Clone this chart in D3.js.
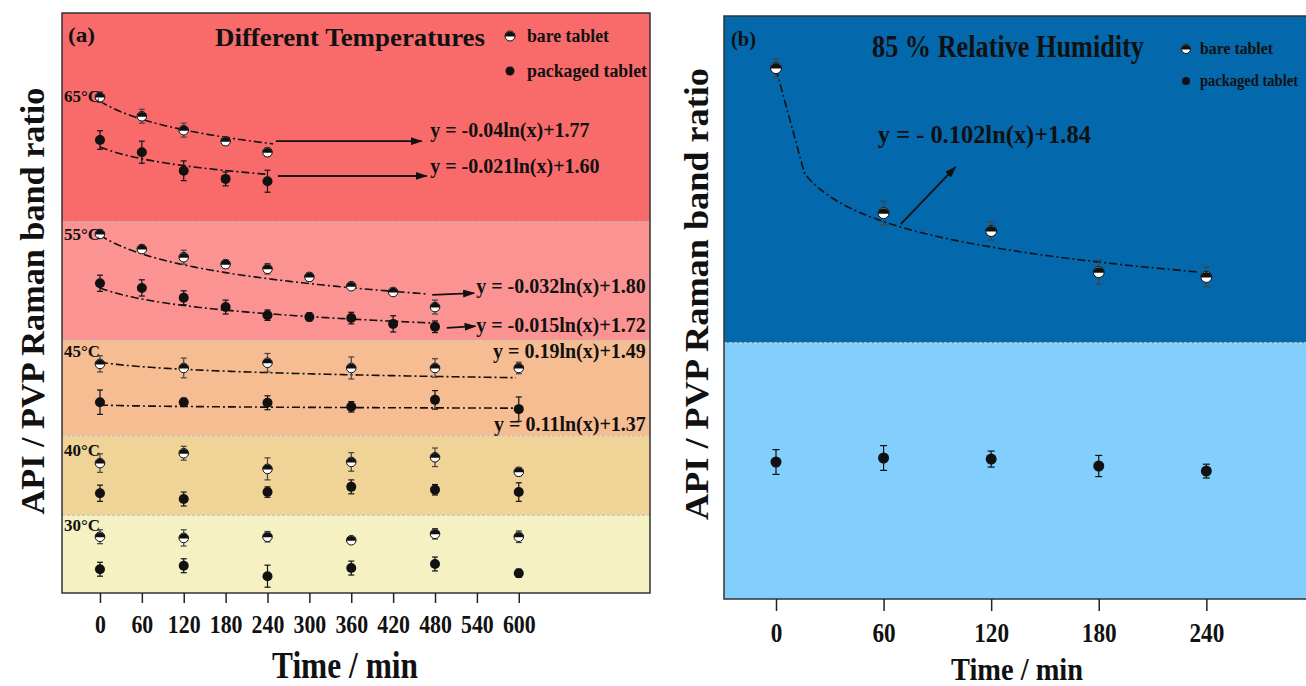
<!DOCTYPE html>
<html lang="en">
<head>
<meta charset="UTF-8">
<title>API / PVP Raman band ratio</title>
<script src="https://cdn.jsdelivr.net/npm/d3@7"></script>
<style>
  body { margin: 0; background: #fff; }
  text { font-family: "Liberation Serif", "Times New Roman", serif; font-weight: bold; fill: #111; }
</style>
</head>
<body>
<script>
// ---------- (a) different temperatures ----------
var tempLabels = ["65°C", "55°C", "45°C", "40°C", "30°C"];
var bandTop = [2.0, 1.640, 1.436, 1.271, 1.134];
var bandBottom = [1.640, 1.436, 1.271, 1.134, 1.0];
var bandLabelY = [1.847, 1.609, 1.407, 1.236, 1.107];

var times65 = [0, 60, 120, 180, 240];
var times55 = [0, 60, 120, 180, 240, 300, 360, 420, 480];
var timesLong = [0, 120, 240, 360, 480, 600];

var bare65 = [1.855, 1.822, 1.798, 1.779, 1.760];
var bare65Err = [0.009, 0.012, 0.012, 0.007, 0.007];
var pack65 = [1.781, 1.760, 1.728, 1.714, 1.710];
var pack65Err = [0.016, 0.019, 0.017, 0.012, 0.019];

var bare55 = [1.619, 1.593, 1.579, 1.567, 1.559, 1.545, 1.529, 1.519, 1.493];
var bare55Err = [0.007, 0.007, 0.012, 0.007, 0.009, 0.007, 0.005, 0.005, 0.012];
var pack55 = [1.534, 1.526, 1.509, 1.493, 1.479, 1.476, 1.474, 1.464, 1.459];
var pack55Err = [0.014, 0.014, 0.012, 0.012, 0.009, 0.007, 0.010, 0.014, 0.010];

var bare45 = [1.395, 1.388, 1.397, 1.388, 1.388, 1.388];
var bare45Err = [0.014, 0.017, 0.016, 0.019, 0.016, 0.010];
var pack45 = [1.329, 1.329, 1.328, 1.321, 1.333, 1.317];
var pack45Err = [0.021, 0.007, 0.012, 0.009, 0.016, 0.021];

var bare40 = [1.224, 1.241, 1.214, 1.226, 1.234, 1.209];
var bare40Err = [0.016, 0.012, 0.019, 0.016, 0.016, 0.007];
var pack40 = [1.172, 1.162, 1.174, 1.183, 1.178, 1.174];
var pack40Err = [0.014, 0.012, 0.009, 0.012, 0.009, 0.016];

var bare30 = [1.097, 1.095, 1.097, 1.091, 1.102, 1.097];
var bare30Err = [0.012, 0.014, 0.009, 0.005, 0.009, 0.010];
var pack30 = [1.041, 1.047, 1.029, 1.043, 1.050, 1.034];
var pack30Err = [0.012, 0.012, 0.019, 0.012, 0.012, 0.007];

// log fits y = a ln(x) + b, x = t/60 + 1 (65, 55, 45 °C)
var fitBareA = [-0.045, -0.0466, -0.0112];
var fitBareB = [1.848, 1.617, 1.398];
var fitBareEnd = [248, 470, 596];
var fitPackA = [-0.0293, -0.0276, -0.0022];
var fitPackB = [1.769, 1.526, 1.324];
var fitPackEnd = [240, 483, 596];

var eqLeftText = ["y = -0.04ln(x)+1.77", "y = -0.021ln(x)+1.60", "y = -0.032ln(x)+1.80",
                  "y = -0.015ln(x)+1.72", "y = 0.19ln(x)+1.49", "y = 0.11ln(x)+1.37"];
var eqLeftT = [473, 473, 539, 539, 782, 782];
var eqLeftV = [1.786, 1.724, 1.518, 1.4505, 1.405, 1.279];
var arrowFromT = [252, 255, 476, 497];
var arrowFromV = [1.779, 1.719, 1.514, 1.457];
var arrowToT = [461, 468, 536, 538];
var arrowToV = [1.779, 1.719, 1.517, 1.460];

var leftTicks = d3.range(0, 601, 60);

// ---------- (b) 85 % relative humidity ----------
var timesRH = [0, 60, 120, 180, 240];
var bareRH = [1.857, 1.459, 1.410, 1.297, 1.284];
var bareRHErr = [0.025, 0.033, 0.025, 0.033, 0.027];
var packRH = [0.776, 0.787, 0.784, 0.765, 0.751];
var packRHErr = [0.034, 0.034, 0.022, 0.029, 0.019];
var rhBandSplit = 1.103;
var rhFitA = -0.102, rhFitB = 1.855, rhFitEnd = 236;   // x = t + 1
var eqRight = "y = - 0.102ln(x)+1.84";
var eqRightT = 56.8, eqRightV = 1.651;
var rhArrowFrom = [69.6, 1.429], rhArrowTo = [100.2, 1.586];
var rightTicks = [0, 60, 120, 180, 240];

// ---------- styles ----------
var bandColors = ["#f96b6b", "#fb9393", "#f6bd92", "#f0d397", "#f6f1c2"];
var rhColors = ["#0468ac", "#82cffd"];
var dash = "8,3,2,3";

var width = 1306, height = 686;
var svg = d3.select("body").append("svg")
    .attr("width", width)
    .attr("height", height);

svg.append("defs").append("marker")
    .attr("id", "arrow")
    .attr("markerUnits", "userSpaceOnUse")
    .attr("markerWidth", 12).attr("markerHeight", 8)
    .attr("refX", 11).attr("refY", 4)
    .attr("orient", "auto")
    .append("path").attr("d", "M0,0 L12,4 L0,8 Z").attr("fill", "#111");

var L = { x0: 62, x1: 650, y0: 13, y1: 593 };
var R = { x0: 724, x1: 1315, y0: 16, y1: 599 };

var xL = d3.scaleLinear().domain([-54.4, 788]).range([L.x0, L.x1]);
var yL = d3.scaleLinear().domain([1.0, 2.0]).range([L.y1, L.y0]);
var xR = d3.scaleLinear().domain([-29, 300.6]).range([R.x0, R.x1]);
var yR = d3.scaleLinear().domain([0.4, 2.0]).range([R.y1, R.y0]);

function addText(g, txt, x, y, size, len, anchor) {
    var t = g.append("text")
        .attr("x", x).attr("y", y)
        .attr("font-size", size)
        .attr("text-anchor", anchor || "start")
        .text(txt);
    if (len) t.attr("textLength", len).attr("lengthAdjust", "spacingAndGlyphs");
    return t;
}

function bareMarker(g, x, y, r) {
    g.append("circle").attr("cx", x).attr("cy", y).attr("r", r)
        .attr("fill", "#fff").attr("stroke", "#111").attr("stroke-width", 1);
    g.append("path")
        .attr("d", "M" + (x - r) + "," + (y + 0.5) + " A" + r + "," + r + " 0 0 1 " + (x + r) + "," + (y + 0.5) + " Z")
        .attr("fill", "#111");
}

function packMarker(g, x, y, r) {
    g.append("circle").attr("cx", x).attr("cy", y).attr("r", r).attr("fill", "#111");
}

function drawSeries(g, xs, ys, times, vals, errs, kind, r, cap) {
    var errColor = kind === "bare" ? "#444" : "#111";
    times.forEach(function (t, i) {
        var x = xs(t), y = ys(vals[i]);
        var yt = ys(vals[i] + errs[i]), yb = ys(vals[i] - errs[i]);
        g.append("line").attr("x1", x).attr("x2", x).attr("y1", yt).attr("y2", yb)
            .attr("stroke", errColor).attr("stroke-width", 1.2);
        [yt, yb].forEach(function (yy) {
            g.append("line").attr("x1", x - cap).attr("x2", x + cap).attr("y1", yy).attr("y2", yy)
                .attr("stroke", errColor).attr("stroke-width", 1.2);
        });
        if (kind === "bare") bareMarker(g, x, y, r); else packMarker(g, x, y, r);
    });
}

function fitLine(g, xs, ys, a, b, tEnd, xOf, samples) {
    var pts = samples.filter(function (t) { return t <= tEnd; });
    if (pts[pts.length - 1] !== tEnd) pts.push(tEnd);
    g.append("path")
        .datum(pts)
        .attr("fill", "none")
        .attr("stroke", "#111")
        .attr("stroke-width", 1.6)
        .attr("stroke-dasharray", dash)
        .attr("d", d3.line()
            .x(function (t) { return xs(t); })
            .y(function (t) { return ys(a * Math.log(xOf(t)) + b); }));
}

function arrow(g, x1, y1, x2, y2) {
    g.append("line").attr("x1", x1).attr("y1", y1).attr("x2", x2).attr("y2", y2)
        .attr("stroke", "#111").attr("stroke-width", 1.8)
        .attr("marker-end", "url(#arrow)");
}

// ================= panel (a) =================
var ga = svg.append("g");

tempLabels.forEach(function (lab, i) {
    ga.append("rect")
        .attr("x", L.x0).attr("y", yL(bandTop[i]))
        .attr("width", L.x1 - L.x0).attr("height", yL(bandBottom[i]) - yL(bandTop[i]))
        .attr("fill", bandColors[i]);
    if (i > 0) {
        ga.append("line").attr("x1", L.x0).attr("x2", L.x1)
            .attr("y1", yL(bandTop[i])).attr("y2", yL(bandTop[i]))
            .attr("stroke", "#bbb").attr("stroke-width", 1).attr("stroke-dasharray", "3,2");
    }
});

ga.append("rect")
    .attr("x", L.x0).attr("y", L.y0)
    .attr("width", L.x1 - L.x0).attr("height", L.y1 - L.y0)
    .attr("fill", "none").attr("stroke", "#333").attr("stroke-width", 1.5);

var leftSeries = [
    [times65, bare65, bare65Err, pack65, pack65Err],
    [times55, bare55, bare55Err, pack55, pack55Err],
    [timesLong, bare45, bare45Err, pack45, pack45Err],
    [timesLong, bare40, bare40Err, pack40, pack40Err],
    [timesLong, bare30, bare30Err, pack30, pack30Err]
];

var leftSamples = d3.range(0, 601, 4);
var xIndex = function (t) { return t / 60 + 1; };
fitBareA.forEach(function (a, i) {
    fitLine(ga, xL, yL, a, fitBareB[i], fitBareEnd[i], xIndex, leftSamples);
    fitLine(ga, xL, yL, fitPackA[i], fitPackB[i], fitPackEnd[i], xIndex, leftSamples);
});

leftSeries.forEach(function (s) {
    drawSeries(ga, xL, yL, s[0], s[1], s[2], "bare", 4.8, 3);
    drawSeries(ga, xL, yL, s[0], s[3], s[4], "pack", 5, 3);
});

tempLabels.forEach(function (lab, i) {
    addText(ga, lab, L.x0 + 2, yL(bandLabelY[i]), 17, 36);
});

arrowFromT.forEach(function (t, i) {
    arrow(ga, xL(t), yL(arrowFromV[i]), xL(arrowToT[i]), yL(arrowToV[i]));
});
eqLeftText.forEach(function (txt, i) {
    addText(ga, txt, xL(eqLeftT[i]), yL(eqLeftV[i]), 20, null, i < 4 ? "start" : "end");
});

addText(ga, "(a)", 68, 42, 20, 27);
addText(ga, "Different Temperatures", 215, 46, 25, 270);
bareMarker(ga, 510, 36, 5);
addText(ga, "bare tablet", 527, 42, 18, 82);
packMarker(ga, 510, 71, 4.5);
addText(ga, "packaged tablet", 527, 77, 18, 120);

var axL = ga.append("g")
    .attr("transform", "translate(0," + L.y1 + ")")
    .call(d3.axisBottom(xL).tickValues(leftTicks).tickSize(10).tickSizeOuter(0));
axL.select(".domain").remove();
axL.selectAll(".tick line").attr("stroke", "#222").attr("stroke-width", 1.5);
axL.selectAll(".tick text")
    .attr("y", 40).attr("dy", null)
    .attr("font-size", 26)
    .attr("font-family", null)
    .attr("fill", "#111")
    .attr("transform", "scale(0.84,1)");

addText(svg, "Time / min", 345, 678, 38, 146, "middle");
svg.append("text")
    .attr("transform", "translate(44,301) rotate(-90)")
    .attr("text-anchor", "middle")
    .attr("font-size", 33)
    .attr("textLength", 427).attr("lengthAdjust", "spacingAndGlyphs")
    .text("API / PVP Raman band ratio");

// ================= panel (b) =================
var gb = svg.append("g");

gb.append("rect")
    .attr("x", R.x0).attr("y", R.y0)
    .attr("width", R.x1 - R.x0).attr("height", yR(rhBandSplit) - R.y0)
    .attr("fill", rhColors[0]);
gb.append("rect")
    .attr("x", R.x0).attr("y", yR(rhBandSplit))
    .attr("width", R.x1 - R.x0).attr("height", R.y1 - yR(rhBandSplit))
    .attr("fill", rhColors[1]);
gb.append("line").attr("x1", R.x0).attr("x2", R.x1)
    .attr("y1", yR(rhBandSplit)).attr("y2", yR(rhBandSplit))
    .attr("stroke", "#ccc").attr("stroke-width", 1.2).attr("stroke-dasharray", "3,2");
gb.append("rect")
    .attr("x", R.x0).attr("y", R.y0)
    .attr("width", R.x1 - R.x0).attr("height", R.y1 - R.y0)
    .attr("fill", "none").attr("stroke", "#333").attr("stroke-width", 1.5);

var rhSamples = [0].concat(d3.range(16, rhFitEnd + 1, 4));
fitLine(gb, xR, yR, rhFitA, rhFitB, rhFitEnd, function (t) { return t + 1; }, rhSamples);

drawSeries(gb, xR, yR, timesRH, bareRH, bareRHErr, "bare", 5.5, 3.5);
drawSeries(gb, xR, yR, timesRH, packRH, packRHErr, "pack", 5.5, 3.5);

arrow(gb, xR(rhArrowFrom[0]), yR(rhArrowFrom[1]), xR(rhArrowTo[0]), yR(rhArrowTo[1]));
addText(gb, eqRight, xR(eqRightT), yR(eqRightV), 26, 213);

addText(gb, "(b)", 731, 46, 21, 25);
addText(gb, "85 % Relative Humidity", 872, 57, 31, 272);
bareMarker(gb, 1186, 49, 4.5);
addText(gb, "bare tablet", 1200, 54, 16, 73);
packMarker(gb, 1186, 81, 4);
addText(gb, "packaged tablet", 1200, 86, 16, 98);

var axR = gb.append("g")
    .attr("transform", "translate(0," + R.y1 + ")")
    .call(d3.axisBottom(xR).tickValues(rightTicks).tickSize(12).tickSizeOuter(0));
axR.select(".domain").remove();
axR.selectAll(".tick line").attr("stroke", "#222").attr("stroke-width", 1.5);
axR.selectAll(".tick text")
    .attr("y", 43).attr("dy", null)
    .attr("font-size", 27)
    .attr("font-family", null)
    .attr("fill", "#111")
    .attr("transform", "scale(0.86,1)");

addText(svg, "Time / min", 1017, 680, 31, 132, "middle");
svg.append("text")
    .attr("transform", "translate(708,294) rotate(-90)")
    .attr("text-anchor", "middle")
    .attr("font-size", 34)
    .attr("textLength", 452).attr("lengthAdjust", "spacingAndGlyphs")
    .text("API / PVP Raman band ratio");
</script>
</body>
</html>
